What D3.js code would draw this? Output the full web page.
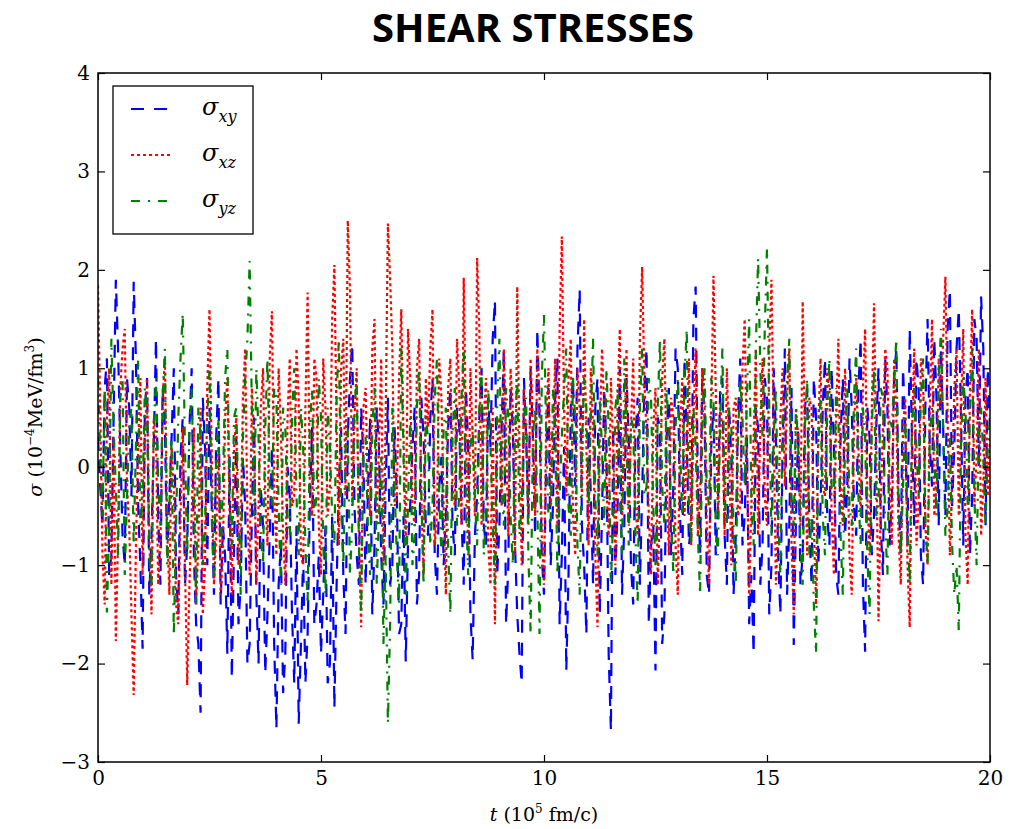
<!DOCTYPE html>
<html>
<head>
<meta charset="utf-8">
<title>Shear stresses</title>
<style>
  body { margin: 0; background: #fff; }
  svg { display: block; }
  .axis .domain { display: none; }
  .axis .tick line { stroke: #000; stroke-width: 1.2; }
  .axis .tick text { font-family: 'DejaVu Serif', serif; font-size: 20px; fill: #000; }
  .title { font-family: 'Open Sans', 'Lato', sans-serif; font-weight: 700; font-size: 40px; }
  .label { font-family: 'DejaVu Serif', serif; font-size: 19px; fill: #000; }
  .legend text { font-family: 'DejaVu Serif', serif; font-style: italic; font-size: 24px; }
</style>
</head>
<body>
<svg width="1019" height="829"></svg>
<script src="https://d3js.org/d3.v7.min.js"></script>
<script>
// time step between samples (10^5 fm/c), one row = 1 unit of t
const tStep = 0.05;

// sigma_xy
const sigmaXY = [
  0.3,-0.2, -0.6,0.8, 1.1,-1.1, -0.9,0.5, 1.9,1.2, 0.2,-0.7, -1.0,0.9, 0.6,-0.3, 1.88,1.1, -0.4,-1.0,
  -1.85,0.6, 0.9,-1.3, -0.7,0.2, 1.3,-0.5, -1.2,0.8, 0.4,-0.9, -0.3,0.3, 1.0,-1.1, -1.5,0.1, 0.5,-1.2,
  -0.8,0.4, 1.0,-0.9, -1.6,-1.8, -2.5,0.7, 0.2,-1.0, 0.6,-0.4, -1.3,0.3, 0.9,-1.4, -0.6,-0.9, -1.9,0.1,
  -2.15,-0.8, 0.3,-1.6, -1.2,0.1, -0.4,-2.0, -1.8,-0.5, 0.5,-1.3, -2.0,-0.2, -0.6,-2.1, -1.5,-0.7, 0.2,-1.8,
  -2.66,-1.2, -0.8,-2.3, -1.9,0.0, -0.3,-1.5, -2.2,-0.6, -2.61,-1.8, -0.9,-2.2, -1.7,-0.4, 0.4,-1.6, -1.4,-0.9,
  -1.9,-1.3, -0.6,-2.2, -2.0,-0.5, -2.45,-1.2, -0.2,0.4, -1.1,-1.7, 0.3,0.9, 1.25,-0.4, -0.9,-1.2, 0.6,0.1,
  -1.2,-0.3, 0.5,-1.5, -0.8,0.6, 0.2,-0.9, -1.4,-0.2, 0.7,-1.2, -1.0,0.4, -0.3,-1.7, -1.6,-0.5, -1.98,-0.8,
  -0.4,0.2, 0.6,-1.4, -1.1,0.7, 0.3,-0.6, -0.7,0.5, 0.9,-0.9, -1.3,-0.2, 0.1,-1.0, -0.5,0.4, 0.8,-0.6,
  -0.9,0.6, 0.4,-0.5, -1.2,0.8, 0.2,-1.5, -1.96,-0.7, -0.3,0.5, 1.0,-0.6, -0.8,0.7, 0.2,1.3, 1.69,-1.1,
  -0.6,0.4, 1.2,-1.6, -1.0,0.8, 0.4,-0.8, -1.5,-1.9, -2.2,0.9, 0.3,-0.5, 1.0,0.3, -0.7,1.4, 0.5,-0.9,
  -1.3,0.1, 0.8,-1.0, -0.4,0.7, 1.1,-1.6, -0.9,0.2, -2.07,-1.1, 0.6,0.9, -0.2,1.2, 1.8,-0.6, -1.0,-1.7,
  0.5,-0.3, -1.2,0.6, 0.9,-1.5, -0.5,0.8, 0.2,-1.9, -2.68,0.4, -1.1,-0.4, 1.0,-1.3, -0.6,0.9, 0.3,-1.0,
  -1.4,0.3, 0.7,-1.2, -0.3,0.8, 1.2,-1.6, -0.8,-0.6, -2.07,0.5, 0.4,-1.8, -1.5,0.3, 0.8,-0.9, -0.2,1.2,
  1.0,-0.5, -1.1,1.1, 0.3,-0.8, -0.6,1.5, 1.83,-0.2, -0.9,1.0, 0.5,-1.1, -1.3,0.2, 0.6,-0.9, -0.4,0.8,
  0.9,-0.7, -1.2,0.6, 0.1,-1.3, -0.7,0.5, 1.1,-0.8, -0.5,0.3, -1.6,-1.1, -1.9,0.6, 0.4,-1.2, -0.8,0.9,
  0.7,-1.5, -1.0,1.0, 0.3,-0.9, -1.5,0.2, 1.2,-1.3, -0.6,0.8, -1.81,-0.5, 0.4,-1.2, -0.9,0.6, 0.8,-0.6,
  -1.2,0.9, 0.5,-1.0, -0.4,0.6, 1.1,-0.5, -0.8,1.0, 0.2,-1.1, -1.3,0.3, 0.9,-0.7, -0.2,1.1, 0.6,-0.4,
  -0.7,0.8, 1.3,-1.2, -1.88,0.6, 0.3,-0.9, -0.5,0.4, 1.0,-0.6, -1.1,1.1, 0.6,-0.8, -0.3,0.9, 1.2,-0.3,
  -0.9,1.0, 0.4,-0.8, 1.4,0.3, -0.6,1.1, 0.8,-0.9, -1.2,0.6, 1.5,0.2, -0.2,1.3, 0.7,-0.6, 1.2,0.4,
  -0.5,1.4, 1.8,-0.4, 0.2,1.2, 1.6,0.5, -0.8,0.7, 1.0,-0.9, -0.3,1.5, 1.3,0.0, 1.73,1.2, -0.6,1.0,
  0.4
];

// sigma_xz
const sigmaXZ = [
  1.84,0.6, -0.9,-1.4, 0.5,1.0, -1.2,0.3, -1.77,-0.7, 0.8,1.2, 1.4,-0.2, -0.6,-1.5, -2.32,-0.8, 0.2,0.9,
  -1.1,0.2, 0.9,-0.7, -1.5,0.5, 0.3,-1.2, -0.8,0.7, 1.1,-0.6, -1.3,0.2, -0.2,-1.4, -1.6,-0.5, 0.4,-1.0,
  -2.22,-1.2, -0.5,0.4, -1.4,-0.8, 0.6,-1.5, -1.0,0.8, 1.6,0.1, -1.2,-0.7, 0.2,-1.3, -0.9,0.5, 0.9,-0.5,
  -1.3,0.2, 0.5,-1.0, -0.6,0.7, 1.2,-0.5, -1.1,0.8, 0.3,-1.2, -0.4,0.6, 1.0,-0.3, -0.8,1.1, 1.58,-0.2,
  -0.9,1.0, 0.4,-0.7, -1.2,0.5, 1.1,-0.4, -0.3,1.2, 0.7,-0.9, -1.0,0.6, 1.77,-0.2, -0.5,1.1, 0.9,-0.6,
  -1.1,1.1, 0.6,-0.5, -0.2,1.5, 2.05,0.4, -0.8,1.0, 1.3,-0.3, 2.5,1.8, -0.4,0.5, 1.0,-0.7, -1.63,0.6,
  0.8,-0.2, -0.5,1.2, 1.5,-0.6, 0.2,1.1, -1.0,0.5, 2.47,1.9, 1.2,-0.4, -0.3,0.9, 1.6,0.3, -0.8,1.4,
  0.9,-0.4, -0.6,1.0, 1.3,-0.3, -1.1,0.9, 0.4,1.2, 1.6,-0.8, -0.5,1.1, 0.7,-0.4, -1.3,0.8, 1.1,-0.2,
  -0.4,1.3, 0.8,-0.6, 1.92,0.4, -0.9,1.0, 0.3,-0.5, 2.12,1.4, -0.6,0.5, 0.9,-0.8, -1.2,0.6, -1.6,0.2,
  0.5,-0.4, 1.2,0.3, -0.7,1.0, 0.6,-0.9, 1.83,0.2, -1.0,0.8, 0.3,-0.6, 1.1,0.4, -0.5,1.2, 0.7,-0.7,
  -1.2,0.5, 1.0,-0.4, 0.2,1.1, -0.6,1.4, 2.34,0.6, -0.3,0.9, 1.3,-0.5, -0.9,1.0, 0.6,-0.3, 1.5,0.2,
  -0.8,1.0, 0.4,-0.9, -1.63,0.3, 1.2,0.6, -0.2,-0.7, 0.9,0.2, -1.0,0.7, 1.4,-0.5, 0.1,1.2, -0.6,0.4,
  1.1,-0.4, -0.7,1.3, 2.03,0.9, 0.3,-0.5, -1.1,0.4, 0.8,-1.2, -0.4,0.9, 1.3,-0.1, -0.9,0.7, 0.5,-0.8,
  -1.3,0.4, 0.9,-0.5, 0.2,1.1, -0.8,0.5, 1.2,-0.7, -0.3,1.0, 0.6,-0.6, -1.2,0.6, 1.94,0.8, -0.5,0.6,
  0.4,-0.7, 1.0,0.2, -1.0,0.6, 0.7,-0.5, -0.4,1.0, 1.5,0.1, -1.3,-0.4, 0.3,1.2, -0.7,0.4, 1.1,-0.3,
  -0.6,1.2, 1.9,0.4, -1.2,-0.6, 0.5,1.0, -0.2,0.7, 1.2,-0.8, -1.5,0.6, 0.3,-0.6, 1.68,0.3, -0.9,0.7,
  0.6,-0.6, -1.4,0.4, 1.1,-0.2, -0.3,1.0, 0.8,-0.5, -1.1,0.5, 1.3,-0.2, -0.6,1.0, 0.2,-0.9, -1.3,0.4,
  0.9,0.2, -0.5,0.8, 1.4,-0.3, -0.9,0.6, 1.66,0.2, -1.57,-0.4, 0.4,1.2, 1.0,-0.2, -0.8,1.1, 0.5,-0.7,
  -1.2,0.4, 0.7,-1.0, -1.63,0.3, 1.2,-0.8, -0.4,1.1, 0.9,-0.6, -1.0,0.6, 1.5,-0.5, -0.2,1.1, 0.6,1.3,
  1.93,0.5, -0.9,-0.2, 0.8,1.2, -0.5,0.6, 1.4,-0.7, -1.2,0.8, 1.6,-0.4, 0.1,1.2, -0.7,-0.2, 0.9,-0.3,
  0.3
];

// sigma_yz
const sigmaYZ = [
  0.9,0.1, -0.5,0.8, -1.48,-0.6, 1.3,0.4, -0.2,-0.9, 0.7,0.9, -1.1,-0.3, 0.4,0.6, -0.8,0.2, 1.1,-0.6,
  -0.3,0.8, 0.6,-0.9, -1.2,0.4, 0.9,-0.2, -0.6,0.7, 1.2,-1.0, -0.4,0.3, -1.72,-0.6, 0.5,1.1, 1.56,0.2,
  -0.9,0.4, 0.8,-0.3, -1.4,0.6, 0.3,-1.0, -0.6,0.5, 1.0,-0.5, -1.1,0.1, 0.5,-0.8, -0.2,0.9, 1.2,-0.3,
  -0.8,0.5, 0.6,-0.4, -1.3,0.3, 0.9,1.3, 2.09,0.6, -0.5,1.0, 0.3,-0.7, -1.0,0.4, 1.1,-0.2, -0.4,0.8,
  0.7,-0.4, -1.2,0.6, 0.4,-0.5, -0.7,0.5, 1.0,-0.3, -0.9,0.6, 0.2,-0.8, -1.4,0.4, 0.8,-0.5, -0.3,0.9,
  0.5,-0.8, -1.3,0.6, 0.2,-0.5, -0.8,0.7, 1.3,-0.4, -1.0,0.2, 0.4,-1.1, -0.6,0.6, 0.9,-0.8, -1.5,0.2,
  0.3,-0.6, -1.1,0.4, 0.8,-1.2, -0.5,0.1, -1.8,-0.9, -2.61,-1.6, 0.6,-0.2, -0.9,-1.4, 1.2,0.1, -1.3,-0.4,
  0.5,-1.0, -0.7,0.6, 1.0,-0.3, -1.2,0.5, 0.3,-0.8, -0.4,0.7, 1.1,-0.3, -0.9,0.4, 0.6,-0.8, -1.5,0.3,
  0.8,-0.6, -0.3,0.7, 1.2,-0.4, -1.1,0.2, 0.4,-0.3, -0.8,0.6, 1.0,-0.9, -0.5,0.8, 0.2,-0.6, -1.2,0.6,
  1.3,-0.2, -0.6,0.8, 0.5,-0.5, -1.0,0.4, 0.9,-0.7, -0.4,0.5, 0.7,-0.9, -1.7,0.3, 0.6,-0.4, -1.7,0.9,
  1.54,0.3, -0.5,-0.6, 0.8,0.4, -1.1,-0.3, 0.3,0.8, 1.2,-0.4, -0.7,0.9, 0.5,-0.8, -1.3,0.2, 0.9,0.6,
  -0.4,0.5, 1.3,-0.3, -0.9,0.7, 0.2,-0.6, 1.0,0.4, -1.2,-0.5, 0.6,0.8, -0.3,-0.9, 1.1,0.3, -0.8,0.5,
  0.4,-0.7, -1.4,0.6, 1.2,-0.3, -0.2,0.9, 0.7,-0.4, -1.0,0.6, 1.3,-0.2, -0.6,0.8, 0.3,-0.5, -1.1,0.4,
  0.9,0.2, -0.5,0.9, 1.4,-0.5, -0.8,0.6, 0.2,-0.7, -1.3,0.4, 1.0,-0.2, -0.4,0.9, 0.7,-0.6, -0.9,0.5,
  1.2,-0.3, -0.6,0.6, 0.4,-0.6, -1.2,0.3, 0.9,0.5, -0.2,0.7, 1.5,-0.4, -0.8,1.2, 2.12,1.0, 0.3,1.4,
  2.22,0.6, -0.7,0.3, 0.8,-0.5, -1.1,0.5, 0.5,0.9, 1.3,-0.3, -0.6,0.6, 0.2,-0.8, -1.2,0.4, 0.9,-0.9,
  -0.5,-1.4, -1.9,0.2, 0.7,-0.5, -0.9,0.6, 1.1,-0.2, -0.3,0.8, 0.5,-0.7, -1.3,0.3, 0.8,-0.4, -0.6,0.7,
  1.2,-0.3, -0.8,0.6, 0.3,-0.9, -1.5,0.4, 1.0,-0.5, -0.4,0.8, 0.7,-0.6, -1.1,0.5, 0.4,0.9, 1.3,-0.4,
  -0.9,-0.2, 0.5,-0.6, -1.2,0.4, 0.8,0.2, -0.3,0.7, 1.1,-0.5, -1.0,0.3, 0.6,0.2, -0.5,0.9, 1.4,0.4,
  -0.7,-0.4, 0.3,-0.8, -1.3,-1.0, -1.66,0.2, 0.9,0.6, -0.4,0.5, 1.2,-0.3, -1.0,0.4, 0.6,0.1, -0.6,0.2,
  0.5
];

const xTicks = [0, 5, 10, 15, 20];
const yTicks = [-3, -2, -1, 0, 1, 2, 3, 4];

const series = [
  { key: "xy", values: sigmaXY, color: "#0000ff", dash: "13,10" },
  { key: "xz", values: sigmaXZ, color: "#ff0000", dash: "3,3" },
  { key: "yz", values: sigmaYZ, color: "#008000", dash: "9,8,2,8" }
];

let width = 1019;
let height = 829;
let margin = { top: 73, right: 29, bottom: 67, left: 98 };
let innerW = width - margin.left - margin.right;
let innerH = height - margin.top - margin.bottom;

let svg = d3.select("svg");

let x = d3.scaleLinear().domain([0, 20]).range([0, innerW]);
let y = d3.scaleLinear().domain([-3, 4]).range([innerH, 0]);

svg.append("text")
    .attr("class", "title")
    .attr("x", 533)
    .attr("y", 42)
    .attr("text-anchor", "middle")
    .text("SHEAR STRESSES");

let g = svg.append("g")
    .attr("transform", `translate(${margin.left},${margin.top})`);

g.append("clipPath")
    .attr("id", "clip")
  .append("rect")
    .attr("width", innerW)
    .attr("height", innerH);

let line = d3.line()
    .x((d, i) => x(i * tStep))
    .y(d => y(d));

let plot = g.append("g").attr("clip-path", "url(#clip)");

series.forEach(s => {
  plot.append("path")
      .datum(s.values)
      .attr("fill", "none")
      .attr("stroke", s.color)
      .attr("stroke-width", 2.2)
      .attr("stroke-dasharray", s.dash)
      .attr("d", line);
});

let minus = d => d < 0 ? "\u2212" + Math.abs(d) : d;

g.append("g")
    .attr("class", "axis")
    .attr("transform", `translate(0,${innerH})`)
    .call(d3.axisBottom(x).tickValues(xTicks).tickSizeInner(-7).tickSizeOuter(0).tickPadding(9));

g.append("g")
    .attr("class", "axis")
    .call(d3.axisTop(x).tickValues(xTicks).tickSizeInner(-7).tickSizeOuter(0).tickFormat(""));

g.append("g")
    .attr("class", "axis")
    .call(d3.axisLeft(y).tickValues(yTicks).tickSizeInner(-7).tickSizeOuter(0).tickPadding(8).tickFormat(minus));

g.append("g")
    .attr("class", "axis")
    .attr("transform", `translate(${innerW},0)`)
    .call(d3.axisRight(y).tickValues(yTicks).tickSizeInner(-7).tickSizeOuter(0).tickFormat(""));

g.append("rect")
    .attr("width", innerW)
    .attr("height", innerH)
    .attr("fill", "none")
    .attr("stroke", "#000")
    .attr("stroke-width", 1.5);

// axis titles
let xl = svg.append("text")
    .attr("class", "label")
    .attr("x", margin.left + innerW / 2)
    .attr("y", 821)
    .attr("text-anchor", "middle");
xl.append("tspan").attr("font-style", "italic").text("t");
xl.append("tspan").text(" (10");
xl.append("tspan").attr("font-size", 12).attr("dy", -8).text("5");
xl.append("tspan").attr("dy", 8).text(" fm/c)");

let yl = svg.append("text")
    .attr("class", "label")
    .attr("transform", "translate(42,417) rotate(-90)")
    .attr("text-anchor", "middle");
yl.append("tspan").attr("font-style", "italic").text("\u03c3");
yl.append("tspan").text(" (10");
yl.append("tspan").attr("font-size", 12).attr("dy", -8).text("\u22124");
yl.append("tspan").attr("dy", 8).text("MeV/fm");
yl.append("tspan").attr("font-size", 12).attr("dy", -8).text("3");
yl.append("tspan").attr("dy", 8).text(")");

// legend
let legend = svg.append("g").attr("class", "legend");
legend.append("rect")
    .attr("x", 113).attr("y", 86)
    .attr("width", 140).attr("height", 148)
    .attr("fill", "#fff")
    .attr("stroke", "#000")
    .attr("stroke-width", 1.3);

series.forEach((s, i) => {
  let ly = 109 + i * 46;
  legend.append("line")
      .attr("x1", 131).attr("x2", 172)
      .attr("y1", ly).attr("y2", ly)
      .attr("stroke", s.color)
      .attr("stroke-width", 1.8)
      .attr("stroke-dasharray", s.dash);
  let txt = legend.append("text")
      .attr("x", 202)
      .attr("y", ly + 6);
  txt.append("tspan").text("\u03c3");
  txt.append("tspan").attr("font-size", 16).attr("dy", 7).text(s.key);
});
</script>
</body>
</html>
